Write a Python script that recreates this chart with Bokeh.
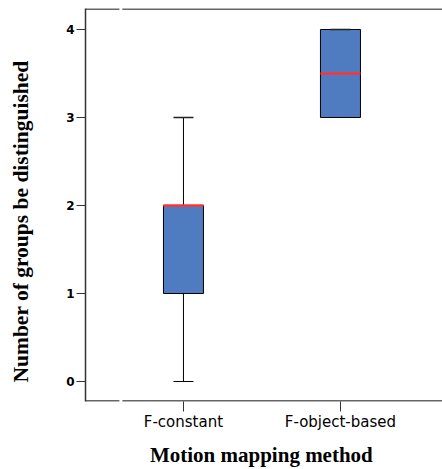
from bokeh.plotting import figure
from bokeh.models import FixedTicker, Title, Range1d
from bokeh.embed import file_html
from bokeh.resources import INLINE

# ---- data ----
categories = ["F-constant", "F-object-based"]
positions = [1, 2]
lower_whisker = [0, 3]
q1 = [1, 3]
median = [2, 3.5]
q3 = [2, 4]
upper_whisker = [3, 4]
y_ticks = [0, 1, 2, 3, 4]

BOX_W = 0.2548
CAP_W = 0.1274
BOX_COLOR = "#4F7CC1"
MED_COLOR = "#FF3333"
AXIS_COLOR = "#333333"

X0, X1 = 0.376, 2.650
Y0, Y1 = -0.2273, 4.2386

p = figure(width=442, height=469, output_backend="svg", toolbar_location=None,
           x_range=Range1d(X0, X1), y_range=Range1d(Y0, Y1),
           min_border_left=85, min_border_right=0, min_border_top=8, min_border_bottom=68)
p.outline_line_color = None
p.grid.grid_line_color = None
p.background_fill_color = "white"
p.border_fill_color = "white"

# boxes
p.vbar(x=positions, bottom=q1, top=q3, width=BOX_W, fill_color=BOX_COLOR,
       line_color="black", line_width=1)
# whiskers
p.segment(x0=positions, y0=q3, x1=positions, y1=upper_whisker, line_color="black", line_width=1)
p.segment(x0=positions, y0=q1, x1=positions, y1=lower_whisker, line_color="black", line_width=1)
# caps
cx0 = [x - CAP_W / 2 for x in positions]
cx1 = [x + CAP_W / 2 for x in positions]
p.segment(x0=cx0, y0=upper_whisker, x1=cx1, y1=upper_whisker, line_color="#222222", line_width=1.5)
p.segment(x0=cx0, y0=lower_whisker, x1=cx1, y1=lower_whisker, line_color="black", line_width=1)
# medians
mx0 = [x - BOX_W / 2 for x in positions]
mx1 = [x + BOX_W / 2 for x in positions]
p.segment(x0=mx0, y0=median, x1=mx1, y1=median, line_color=MED_COLOR, line_width=2.5)

# frame lines with small gap near left
GAP0, GAP1 = 0.592, 0.611
ytop = 4.233
ybot = -0.2216
p.segment(x0=[X0, GAP1, X0, GAP1], y0=[ytop, ytop, ybot, ybot],
          x1=[GAP0, X1, GAP0, X1], y1=[ytop, ytop, ybot, ybot],
          line_color=AXIS_COLOR, line_width=1.5)

# y axis
ya = p.yaxis[0]
ya.ticker = FixedTicker(ticks=y_ticks)
ya.minor_tick_line_color = None
ya.major_tick_in = 0
ya.major_tick_out = 9
ya.major_label_standoff = 2
ya.axis_line_color = AXIS_COLOR
ya.axis_line_width = 1.5
ya.major_tick_line_color = AXIS_COLOR
ya.major_label_text_font = "DejaVu Sans"
ya.major_label_text_font_style = "bold"
ya.major_label_text_font_size = "12px"
ya.major_label_text_color = "black"
# blank spacer label to push the y title outwards
ya.axis_label = " "
ya.axis_label_text_font_size = "2px"
ya.axis_label_standoff = 25

# x axis
xa = p.xaxis[0]
xa.ticker = FixedTicker(ticks=positions)
xa.major_label_overrides = {pos: c for pos, c in zip(positions, categories)}
xa.minor_tick_line_color = None
xa.major_tick_in = 0
xa.major_tick_out = 10
xa.axis_line_color = None
xa.major_tick_line_color = AXIS_COLOR
xa.major_label_standoff = 1
xa.major_label_text_font = "DejaVu Sans"
xa.major_label_text_font_size = "15px"
xa.major_label_text_color = "black"
xa.axis_label = "Motion  mapping method"
xa.axis_label_text_font = "Liberation Serif"
xa.axis_label_text_font_style = "bold"
xa.axis_label_text_font_size = "21px"
xa.axis_label_text_color = "black"
xa.axis_label_standoff = 9

ytitle = Title(text="Number of groups be distinguished", align="left", offset=19,
               standoff=0, vertical_align="bottom", text_font="Liberation Serif",
               text_font_style="bold", text_font_size="21.5px", text_color="black")
p.add_layout(ytitle, "left")

open("out.html", "w").write(file_html(p, INLINE))
